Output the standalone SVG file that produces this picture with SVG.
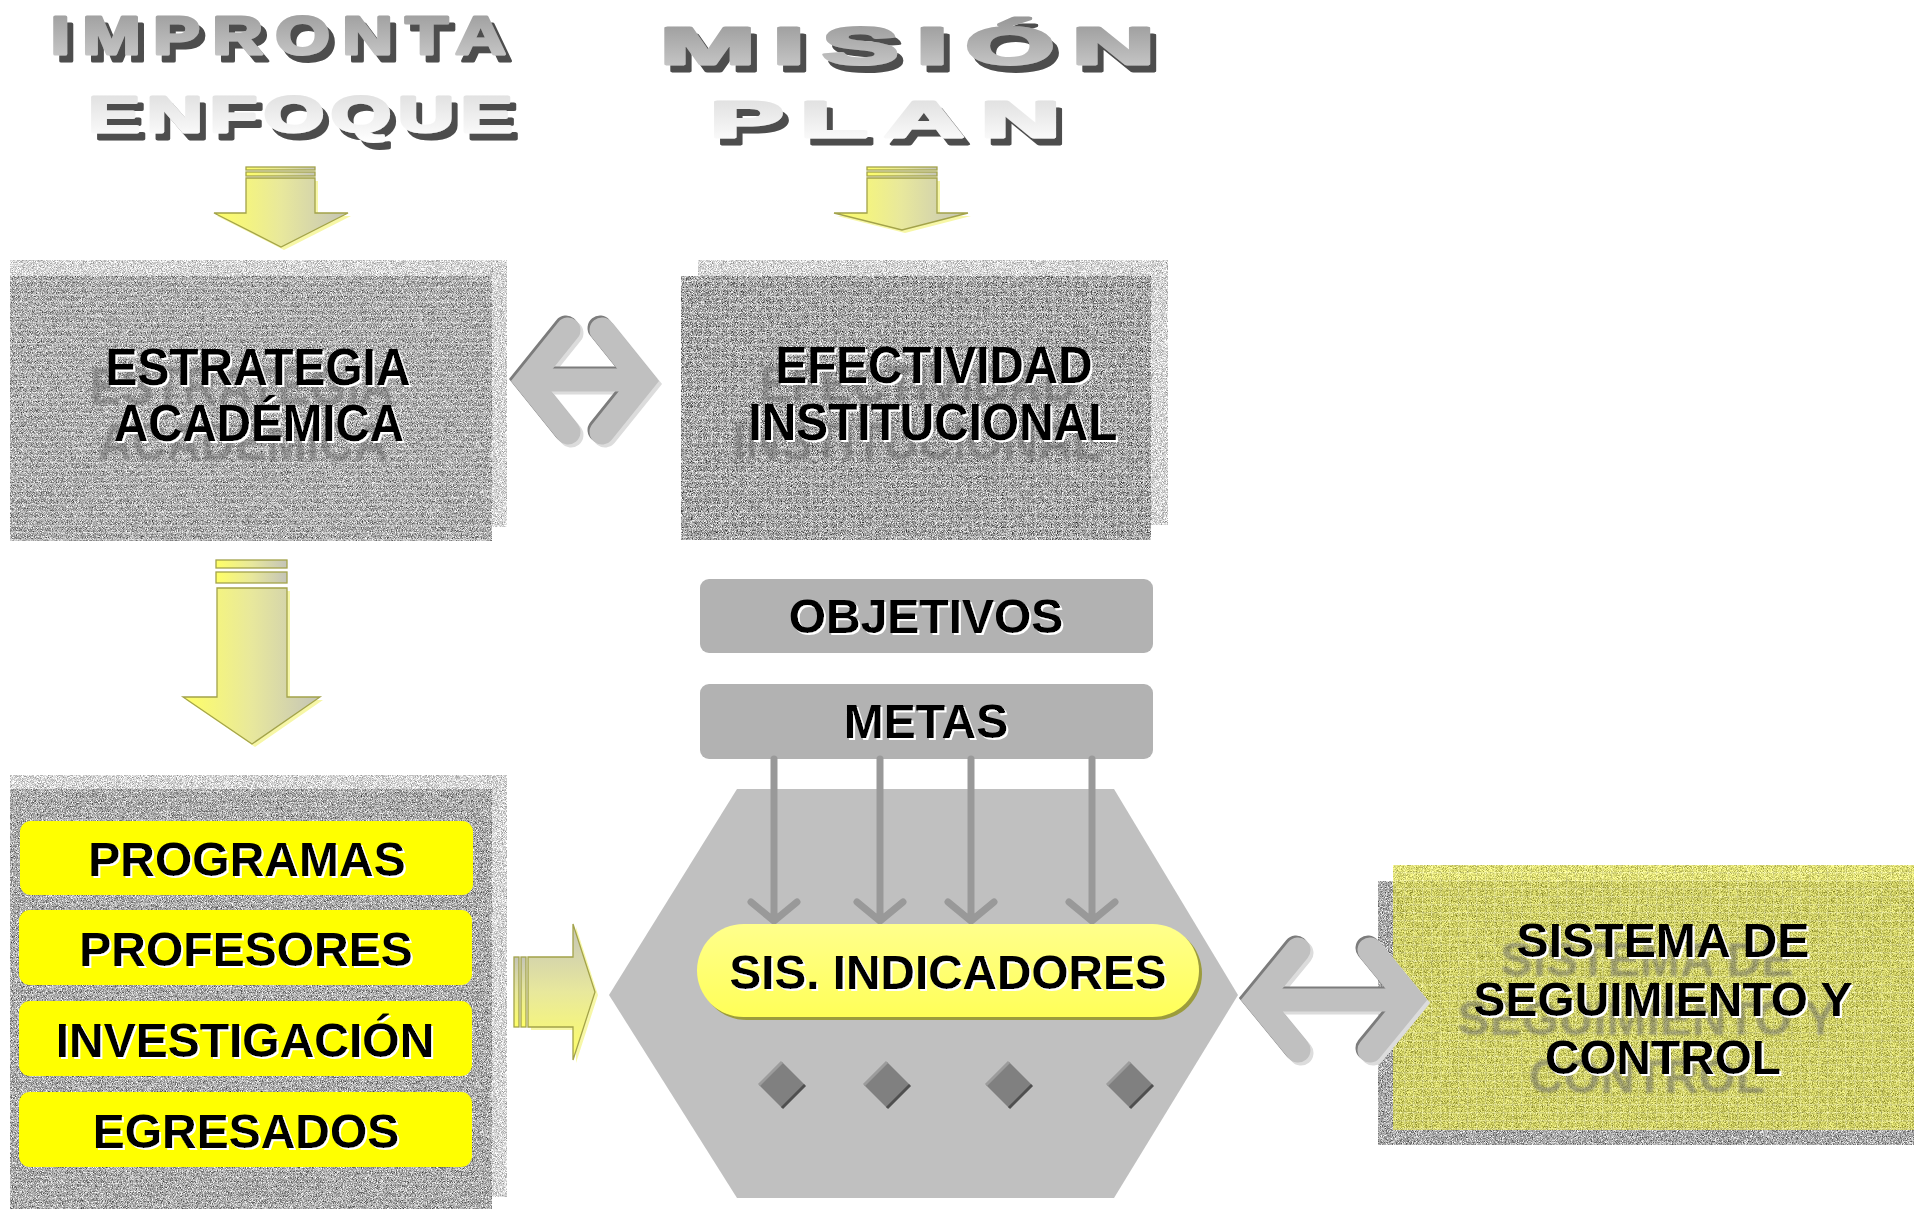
<svg xmlns="http://www.w3.org/2000/svg" width="1914" height="1209" viewBox="0 0 1914 1209">
<defs>
<style>
.tt{font-family:"Liberation Sans",Arial,sans-serif;font-weight:bold;stroke-width:3;stroke-linejoin:round}
.lbl{font-family:"Liberation Sans",Arial,sans-serif;font-weight:bold;fill:#000;text-anchor:middle}
.chev{fill:none;stroke-linecap:round;stroke-linejoin:miter;stroke-width:25}
.bar{stroke-width:23;stroke-linecap:butt}
.c-main{stroke:#C0C0C0}
.c-dark{stroke:#7C7C7C}
.c-light{stroke:#DCDCDC}
.ya{fill:url(#gDown);stroke:#A3A34A;stroke-width:1.3}
.yr{fill:url(#gRight);stroke:#A3A34A;stroke-width:1.3}
.yglow{fill:#F4F48A;opacity:.75}
.mline{fill:none;stroke:#999999;stroke-width:7;stroke-linecap:round;stroke-linejoin:round}
.dia{fill:#808080}
.dia-d{fill:none;stroke:#4F4F4F;stroke-width:3}
.dia-l{fill:none;stroke:#9C9C9C;stroke-width:3}
.gbox{fill:#B2B2B2}
.ybox{fill:#FFFF00}
</style>
<linearGradient id="gImp" x1="0" y1="0" x2="0" y2="1"><stop offset="0" stop-color="#989898"/><stop offset="1" stop-color="#CDCDCD"/></linearGradient>
<linearGradient id="gEnf" x1="0" y1="0" x2="0" y2="1"><stop offset="0" stop-color="#DCDCDC"/><stop offset="1" stop-color="#FFFFFF"/></linearGradient>
<linearGradient id="gDown" x1="0" y1="0" x2="1" y2="0"><stop offset="0" stop-color="#FFFF66"/><stop offset="0.5" stop-color="#E8E89C"/><stop offset="1" stop-color="#C4C4B8"/></linearGradient>
<linearGradient id="gRight" x1="0" y1="0" x2="0" y2="1"><stop offset="0" stop-color="#C4C4B8"/><stop offset="0.5" stop-color="#E8E89C"/><stop offset="1" stop-color="#FFFF66"/></linearGradient>
<linearGradient id="gCap" x1="0" y1="0" x2="0" y2="1"><stop offset="0" stop-color="#FFFF8C"/><stop offset="1" stop-color="#FFFF58"/></linearGradient>
<pattern id="hl" width="8" height="7" patternUnits="userSpaceOnUse"><rect width="8" height="1.4" fill="#FFFFFF" opacity="0.3"/></pattern>
<pattern id="grid" width="9" height="8" patternUnits="userSpaceOnUse"><rect width="9" height="1.4" fill="#FFFFFF" opacity="0.28"/><rect width="1.4" height="8" fill="#FFFFFF" opacity="0.22"/></pattern>
<filter id="nMid" x="0" y="0" width="1" height="1" color-interpolation-filters="sRGB">
<feTurbulence type="fractalNoise" baseFrequency="1.2" numOctaves="2" seed="4" result="n"/>
<feColorMatrix in="n" type="matrix" values="1.3 0 0 0 0.01  1.3 0 0 0 0.01  1.3 0 0 0 0.01  0 0 0 0 1" result="g"/>
<feComposite in="g" in2="SourceGraphic" operator="in"/>
</filter>
<filter id="nDark" x="0" y="0" width="1" height="1" color-interpolation-filters="sRGB">
<feTurbulence type="fractalNoise" baseFrequency="1.2" numOctaves="2" seed="9" result="n"/>
<feColorMatrix in="n" type="matrix" values="1.5 0 0 0 -0.13  1.5 0 0 0 -0.13  1.5 0 0 0 -0.13  0 0 0 0 1" result="g"/>
<feComposite in="g" in2="SourceGraphic" operator="in"/>
</filter>
<filter id="nLight" x="0" y="0" width="1" height="1" color-interpolation-filters="sRGB">
<feTurbulence type="fractalNoise" baseFrequency="1.2" numOctaves="2" seed="2" result="n"/>
<feColorMatrix in="n" type="matrix" values="1.0 0 0 0 0.34  1.0 0 0 0 0.34  1.0 0 0 0 0.34  0 0 0 0 1" result="g"/>
<feComposite in="g" in2="SourceGraphic" operator="in"/>
</filter>
<filter id="nYel" x="0" y="0" width="1" height="1" color-interpolation-filters="sRGB">
<feTurbulence type="fractalNoise" baseFrequency="1.2" numOctaves="2" seed="6" result="n"/>
<feColorMatrix in="n" type="matrix" values="1.2 0 0 0 0.24  1.2 0 0 0 0.24  1.0 0 0 0 -0.18  0 0 0 0 1" result="g"/>
<feComposite in="g" in2="SourceGraphic" operator="in"/>
</filter>
<filter id="tsh" x="-5%" y="-20%" width="115%" height="150%">
<feOffset in="SourceAlpha" dx="6" dy="7" result="o"/>
<feFlood flood-color="#4D4D4D"/><feComposite in2="o" operator="in" result="s"/>
<feMerge><feMergeNode in="s"/><feMergeNode in="SourceGraphic"/></feMerge>
</filter>
<filter id="emb" x="-10%" y="-30%" width="120%" height="170%">
<feOffset in="SourceAlpha" dx="2" dy="2" result="o"/>
<feFlood flood-color="#FFFFFF"/><feComposite in2="o" operator="in" result="w"/>
<feMerge><feMergeNode in="w"/><feMergeNode in="SourceGraphic"/></feMerge>
</filter>
<filter id="embG" x="-15%" y="-40%" width="130%" height="220%">
<feOffset in="SourceAlpha" dx="-16" dy="19" result="go"/>
<feGaussianBlur in="go" stdDeviation="1.3" result="gb"/>
<feFlood flood-color="#666666" flood-opacity="0.5"/><feComposite in2="gb" operator="in" result="g"/>
<feOffset in="SourceAlpha" dx="2" dy="2" result="o"/>
<feFlood flood-color="#FFFFFF"/><feComposite in2="o" operator="in" result="w"/>
<feMerge><feMergeNode in="g"/><feMergeNode in="w"/><feMergeNode in="SourceGraphic"/></feMerge>
</filter>
</defs>
<rect width="1914" height="1209" fill="#FFFFFF"/>

<g id="title-impronta" filter="url(#tsh)">
<text class="tt" transform="scale(1.3,1)" x="38.8" y="54" font-size="54" letter-spacing="9.5" fill="url(#gImp)" stroke="url(#gImp)">IMPRONTA</text>
</g>
<g id="title-enfoque" filter="url(#tsh)">
<text class="tt" transform="scale(1.55,1)" x="57" y="132" font-size="50" letter-spacing="4.4" fill="url(#gEnf)" stroke="url(#gEnf)">ENFOQUE</text>
</g>
<g id="title-mision" filter="url(#tsh)">
<text class="tt" transform="scale(2.2,1)" x="300" y="64" font-size="52" letter-spacing="8" fill="url(#gImp)" stroke="url(#gImp)">MISIÓN</text>
</g>
<g id="title-plan" filter="url(#tsh)">
<text class="tt" transform="scale(2.2,1)" x="322.7" y="137" font-size="50" letter-spacing="7.7" fill="url(#gEnf)" stroke="url(#gEnf)">PLAN</text>
</g>

<g id="node-estrategia">
<rect x="10" y="260" width="497" height="267" fill="#CCC" filter="url(#nLight)"/>
<rect x="10" y="276" width="482" height="265" fill="#999" filter="url(#nMid)"/>
<rect x="10" y="276" width="482" height="265" fill="url(#hl)"/>
<g filter="url(#embG)">
<text class="lbl" x="258" y="385" font-size="51" textLength="305" lengthAdjust="spacingAndGlyphs">ESTRATEGIA</text>
<text class="lbl" x="259" y="441" font-size="51" textLength="290" lengthAdjust="spacingAndGlyphs">ACADÉMICA</text>
</g>
</g>

<g id="node-efectividad">
<rect x="698" y="260" width="470" height="265" fill="#CCC" filter="url(#nLight)"/>
<rect x="681" y="276" width="470" height="264" fill="#999" filter="url(#nDark)"/>
<rect x="681" y="276" width="470" height="264" fill="url(#grid)"/>
<g filter="url(#embG)">
<text class="lbl" x="934" y="383" font-size="51" textLength="317" lengthAdjust="spacingAndGlyphs">EFECTIVIDAD</text>
<text class="lbl" x="933" y="440" font-size="51" textLength="369" lengthAdjust="spacingAndGlyphs">INSTITUCIONAL</text>
</g>
</g>

<g id="node-componentes">
<rect x="10" y="775" width="497" height="422" fill="#CCC" filter="url(#nLight)"/>
<rect x="10" y="789" width="482" height="420" fill="#999" filter="url(#nMid)"/>
<rect x="10" y="789" width="482" height="420" fill="url(#hl)" opacity="0.6"/>
<g id="node-programas">
<rect class="ybox" x="20" y="821" width="453" height="74" rx="11"/>
<text class="lbl" x="247" y="876" font-size="48" filter="url(#emb)">PROGRAMAS</text>
</g>
<g id="node-profesores">
<rect class="ybox" x="19" y="910" width="453" height="75" rx="11"/>
<text class="lbl" x="246" y="966" font-size="48" filter="url(#emb)">PROFESORES</text>
</g>
<g id="node-investigacion">
<rect class="ybox" x="19" y="1001" width="453" height="75" rx="11"/>
<text class="lbl" x="245" y="1057" font-size="48" filter="url(#emb)">INVESTIGACIÓN</text>
</g>
<g id="node-egresados">
<rect class="ybox" x="19" y="1092" width="453" height="75" rx="11"/>
<text class="lbl" x="246" y="1148" font-size="48" filter="url(#emb)">EGRESADOS</text>
</g>
</g>

<g id="node-objetivos">
<rect class="gbox" x="700" y="579" width="453" height="74" rx="9"/>
<text class="lbl" x="926" y="633" font-size="48" filter="url(#emb)">OBJETIVOS</text>
</g>
<g id="node-metas">
<rect class="gbox" x="700" y="684" width="453" height="75" rx="9"/>
<text class="lbl" x="926" y="738" font-size="48" filter="url(#emb)">METAS</text>
</g>

<g id="node-hexagono">
<polygon points="737,789 1114,789 1238,995 1114,1198 737,1198 609,995" fill="#C0C0C0"/>
<g id="diamonds">
<polygon class="dia" points="782,1062 805,1085 782,1108 759,1085"/>
<polyline class="dia-d" points="805,1085 782,1108"/><polyline class="dia-l" points="759,1085 782,1062"/>
<polygon class="dia" points="887,1062 910,1085 887,1108 864,1085"/>
<polyline class="dia-d" points="910,1085 887,1108"/><polyline class="dia-l" points="864,1085 887,1062"/>
<polygon class="dia" points="1009,1062 1032,1085 1009,1108 986,1085"/>
<polyline class="dia-d" points="1032,1085 1009,1108"/><polyline class="dia-l" points="986,1085 1009,1062"/>
<polygon class="dia" points="1130,1062 1153,1085 1130,1108 1107,1085"/>
<polyline class="dia-d" points="1153,1085 1130,1108"/><polyline class="dia-l" points="1107,1085 1130,1062"/>
</g>
</g>

<g id="node-sistema">
<rect x="1378" y="881" width="536" height="264" fill="#999" filter="url(#nMid)"/>
<rect x="1393" y="865" width="521" height="265" fill="#CC0" filter="url(#nYel)" opacity="0.8"/>
<rect x="1393" y="865" width="521" height="265" fill="url(#grid)" opacity="0.7"/>
<g filter="url(#embG)">
<text class="lbl" x="1663" y="957" font-size="49" textLength="293" lengthAdjust="spacingAndGlyphs">SISTEMA DE</text>
<text class="lbl" x="1663" y="1016" font-size="49" textLength="379" lengthAdjust="spacingAndGlyphs">SEGUIMIENTO Y</text>
<text class="lbl" x="1663" y="1074" font-size="49" textLength="236" lengthAdjust="spacingAndGlyphs">CONTROL</text>
</g>
</g>

<g id="connectors">
<g id="arrow-impronta">
<path class="yglow" d="M249,181 H318 V216 H351 L284,250 L217,216 H249 Z"/>
<rect class="ya" x="246" y="167" width="69" height="3"/>
<rect class="ya" x="246" y="172" width="69" height="4"/>
<path class="ya" d="M246,178 H315 V213 H348 L281,247 L214,213 H246 Z"/>
</g>
<g id="arrow-mision">
<path class="yglow" d="M870,181 H940 V216 H971 L905,233 L837,216 H870 Z"/>
<rect class="ya" x="867" y="167" width="70" height="3"/>
<rect class="ya" x="867" y="172" width="70" height="4"/>
<path class="ya" d="M867,178 H937 V213 H968 L902,230 L834,213 H867 Z"/>
</g>
<g id="arrow-estrategia-componentes">
<path class="yglow" d="M220,591 H290 V700 H323 L255,747 L186,700 H220 Z"/>
<rect class="ya" x="216" y="560" width="71" height="8"/>
<rect class="ya" x="216" y="572" width="71" height="11"/>
<path class="ya" d="M217,588 H287 V697 H320 L252,744 L183,697 H217 Z"/>
</g>
<g id="arrow-componentes-hexagono">
<path class="yglow" d="M531,960 H576 V927 L598,995 L576,1063 V1030 H531 Z"/>
<rect class="yr" x="514" y="957" width="5" height="70"/>
<rect class="yr" x="521" y="957" width="5" height="70"/>
<path class="yr" d="M528,957 H573 V924 L595,992 L573,1060 V1027 H528 Z"/>
</g>
<g id="link-estrategia-efectividad">
<g transform="translate(3,3)">
<path class="chev c-light" d="M568,330 L527,381 L568,432"/><path class="chev c-light" d="M602,330 L643,381 L602,432"/><line class="bar c-light" x1="527" y1="380" x2="643" y2="380"/>
</g>
<g transform="translate(-2,-2)">
<path class="chev c-dark" d="M568,330 L527,381 L568,432"/><path class="chev c-dark" d="M602,330 L643,381 L602,432"/><line class="bar c-dark" x1="527" y1="380" x2="643" y2="380"/>
</g>
<path class="chev c-main" d="M568,330 L527,381 L568,432"/><path class="chev c-main" d="M602,330 L643,381 L602,432"/><line class="bar c-main" x1="527" y1="380" x2="643" y2="380"/>
</g>
<g id="link-hexagono-sistema">
<g transform="translate(3,3)">
<path class="chev c-light" d="M1298,950 L1257,1000 L1298,1050"/><path class="chev c-light" d="M1370,950 L1411,1000 L1370,1050"/><line class="bar c-light" x1="1257" y1="1000" x2="1411" y2="1000"/>
</g>
<g transform="translate(-2,-2)">
<path class="chev c-dark" d="M1298,950 L1257,1000 L1298,1050"/><path class="chev c-dark" d="M1370,950 L1411,1000 L1370,1050"/><line class="bar c-dark" x1="1257" y1="1000" x2="1411" y2="1000"/>
</g>
<path class="chev c-main" d="M1298,950 L1257,1000 L1298,1050"/><path class="chev c-main" d="M1370,950 L1411,1000 L1370,1050"/><line class="bar c-main" x1="1257" y1="1000" x2="1411" y2="1000"/>
</g>
<g id="metas-to-indicadores">
<path class="mline" d="M774,759 V918 M751,902 L774,921 L797,902"/>
<path class="mline" d="M880,759 V918 M857,902 L880,921 L903,902"/>
<path class="mline" d="M971,759 V918 M948,902 L971,921 L994,902"/>
<path class="mline" d="M1092,759 V918 M1069,902 L1092,921 L1115,902"/>
</g>
</g>

<g id="node-indicadores">
<rect x="700" y="927" width="502" height="93" rx="46.5" fill="#9C9C3C"/>
<rect x="697" y="924" width="502" height="93" rx="46.5" fill="url(#gCap)"/>
<text class="lbl" x="948" y="989" font-size="48" textLength="437" lengthAdjust="spacingAndGlyphs" filter="url(#emb)">SIS. INDICADORES</text>
</g>
</svg>
